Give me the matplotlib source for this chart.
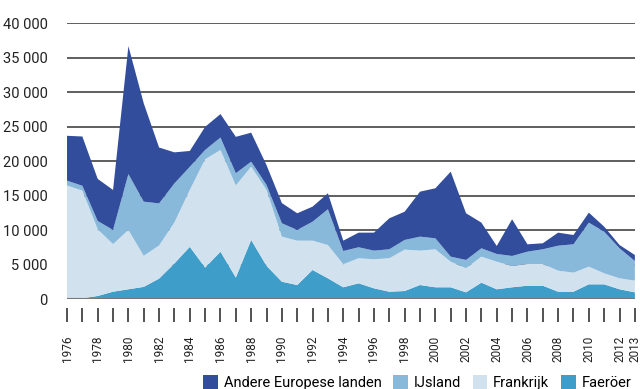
import numpy as np
import matplotlib.pyplot as plt

plt.rcParams['font.family'] = ['Roboto', 'DejaVu Sans']

years = list(range(1976, 2014))

faeroer = [100, 150, 480, 1100, 1450, 1800, 3000, 5200, 7600, 4600,
           6900, 3150, 8600, 4850, 2550, 2070, 4250, 3040, 1740, 2320,
           1590, 1100, 1200, 2070, 1740, 1740, 1010, 2410, 1450, 1740,
           1970, 1970, 1100, 1100, 2170, 2170, 1450, 1010]
frankrijk = [16400, 15600, 9670, 6900, 8600, 4500, 4800, 5950, 8250, 15700,
             14750, 13350, 10630, 11000, 6530, 6430, 4250, 4830, 3340, 3630,
             4210, 4850, 6000, 4980, 5510, 3710, 3490, 3770, 4000, 3090,
             3150, 3150, 3050, 2760, 2560, 1600, 1590, 1690]
ijsland = [700, 700, 1200, 2050, 8100, 7850, 6100, 5650, 3350, 1350,
           1800, 1770, 720, 720, 1940, 1550, 2750, 5180, 1920, 1590,
           1250, 1300, 1400, 2030, 1590, 730, 1200, 1210, 1120, 1450,
           1780, 2130, 3620, 4110, 6380, 6030, 4350, 2850]
andere = [6500, 7150, 6100, 5800, 18550, 14250, 8100, 4500, 2300, 3350,
          3400, 5280, 4200, 2880, 2930, 2420, 2180, 2320, 1500, 2120,
          2610, 4490, 4100, 6520, 7250, 12320, 6770, 3720, 1160, 5320,
          1070, 870, 1890, 1350, 1450, 730, 480, 870]

labels = ['Faeröer', 'Frankrijk', 'IJsland', 'Andere Europese landen']
colors = ['#3e9dc9', '#d1e1ee', '#89b9da', '#324d9b']

fig = plt.figure(figsize=(6.4, 3.89), dpi=100)
ax = fig.add_axes([0.1047, 0.2306, 0.8873, 0.7094])

polys = ax.stackplot(years, faeroer, frankrijk, ijsland, andere,
                     colors=colors, labels=labels, lw=0, zorder=2)

ax.set_xlim(1976, 2013)
ax.set_ylim(0, 40000)

yt = np.arange(0, 40001, 5000)
ax.set_yticks(yt)
ax.set_yticklabels(['{:,}'.format(v).replace(',', ' ') for v in yt])
ax.grid(axis='y', color='#333333', lw=1.1, zorder=1)
ax.axhline(0, color='#777777', lw=1.5, zorder=3)

ax.set_xticks(years)
ax.set_xticklabels([str(y) if (y % 2 == 0 or y == 2013) else '' for y in years])

for s in ['top', 'right', 'left']:
    ax.spines[s].set_visible(False)
ax.spines['bottom'].set_position(('outward', 6))
ax.spines['bottom'].set_visible(False)

ax.tick_params(axis='y', length=0, pad=14, labelsize=10.5, labelcolor='#222222')
ax.tick_params(axis='x', length=10, width=1.3, color='#444444', pad=10,
               labelsize=8.5, labelcolor='#222222', labelrotation=90)

handles = polys[::-1]
fig.legend(handles, labels[::-1], loc='lower right', bbox_to_anchor=(1.0, -0.025),
           ncol=4, frameon=False, fontsize=10.5, handlelength=1.0,
           handleheight=1.0, handletextpad=0.4, columnspacing=0.8,
           borderaxespad=0.2)

fig.savefig('out.png', dpi=100)
